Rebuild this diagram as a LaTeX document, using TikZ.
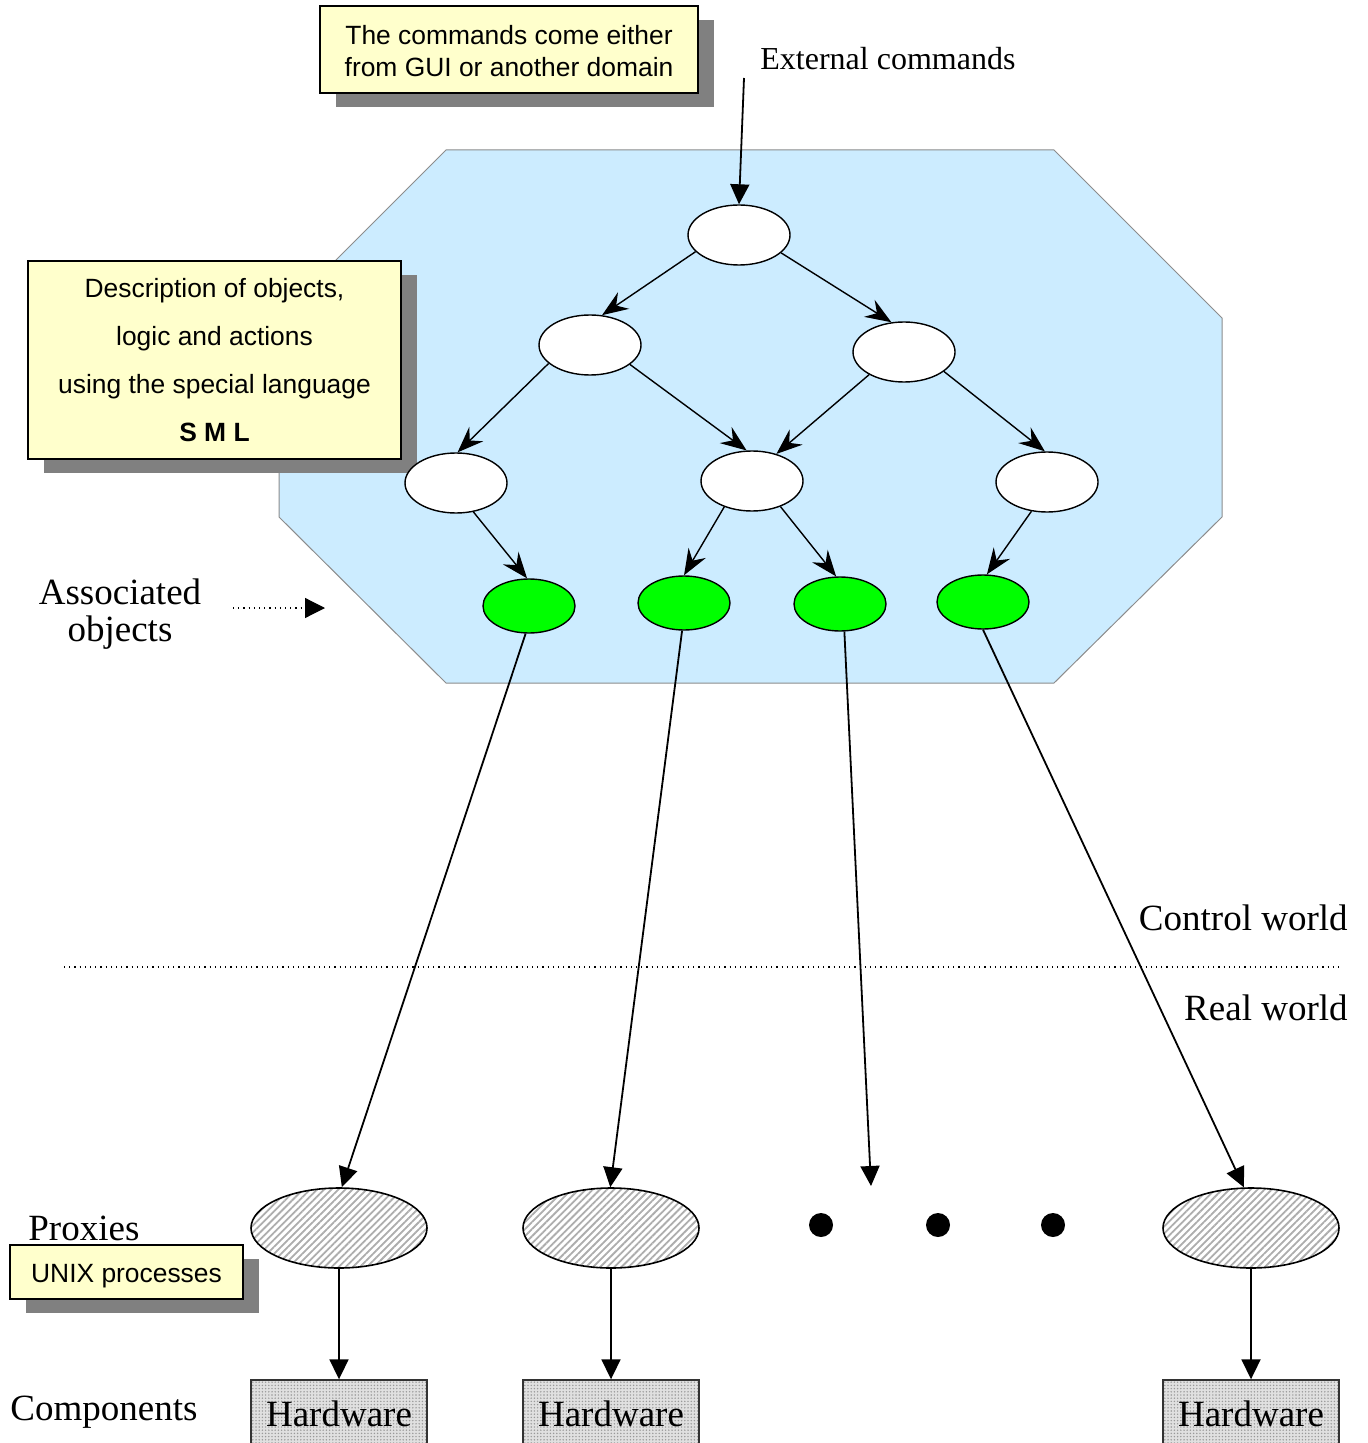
\documentclass[tikz,border=0pt]{standalone}
\usepackage{fontspec}
\setmainfont{Liberation Serif}
\newfontfamily\notefont{Liberation Sans}
\usetikzlibrary{arrows.meta,shapes.geometric,shadows,patterns.meta}
\definecolor{domainblue}{RGB}{204,236,255}
\definecolor{noteyellow}{RGB}{255,255,204}
\definecolor{objgreen}{RGB}{0,255,0}
\tikzset{
  note/.style={draw=black, line width=1pt, fill=noteyellow, inner sep=0pt,
    align=center, font=\notefont\fontsize{13.2}{16}\selectfont,
    drop shadow={shadow xshift=8pt, shadow yshift=-7pt, fill=black!50, opacity=1}},
  stateobj/.style={ellipse, draw=black, line width=0.7pt, fill=white,
    minimum width=51pt, minimum height=30pt, inner sep=0pt},
  assocobj/.style={ellipse, draw=black, line width=0.7pt, fill=objgreen,
    minimum width=46pt, minimum height=27pt, inner sep=0pt},
  proxy/.style={ellipse, draw=black, line width=0.8pt,
    minimum width=88pt, minimum height=40pt, inner sep=0pt,
    preaction={fill=white},
    pattern={Lines[angle=45,distance=2.5pt,line width=0.9pt]}, pattern color=black!32},
  hwbox/.style={rectangle, draw=black!80, line width=0.7pt,
    minimum width=88pt, minimum height=34pt, inner sep=0pt,
    preaction={fill=black!12},
    pattern={Dots[distance=1.6pt,radius=0.4pt]}, pattern color=black!40,
    font=\fontsize{18.5}{18.5}\selectfont},
  dotmark/.style={circle, fill=black, minimum size=12pt, inner sep=0pt},
  lbl/.style={inner sep=0pt, font=\fontsize{18.5}{22}\selectfont},
  treearrow/.style={line width=0.7pt, -{Stealth[length=13pt,width=10pt,inset=4.5pt]}},
  downarrow/.style={line width=0.9pt, -{Triangle[length=10pt,width=9.5pt]}},
}
\begin{document}
\begin{tikzpicture}[x=0.5pt, y=-0.5pt]
\useasboundingbox (0,0) rectangle (1368,1443);

% control domain (octagon)
\draw[draw=black!45, line width=0.5pt, fill=domainblue]
  (446,150) -- (1054,150) -- (1222,318) -- (1222,517) -- (1054,683)
  -- (446,683) -- (279,517) -- (279,317) -- cycle;

% notes
\node[note, minimum width=189pt, minimum height=43.5pt] (cmdnote) at (509,49.5)
  {\raisebox{-2.5pt}[\height][\depth]{\begin{tabular}{@{}c@{}}The commands come either\\from GUI or another domain\end{tabular}}};
\node[note, minimum width=186.5pt, minimum height=99pt,
  font=\notefont\fontsize{13.2}{24}\selectfont] (smlnote) at (214.5,360)
  {Description of objects,\\logic and actions\\using the special language\\\textbf{S M L}};

% external commands
\node[lbl, anchor=base west, font=\fontsize{16}{18}\selectfont] (ext) at (760,70) {External commands};
\coordinate (extin) at (744,78);

% object tree
\node[stateobj] (top) at (739,235) {};
\node[stateobj] (la) at (590,345) {};
\node[stateobj] (lb) at (904,352) {};
\node[stateobj] (ma) at (456,483) {};
\node[stateobj] (mb) at (752,481) {};
\node[stateobj] (mc) at (1047,482) {};

\node[assocobj] (g1) at (529,606) {};
\node[assocobj] (g2) at (684,603) {};
\node[assocobj] (g3) at (840,604) {};
\node[assocobj] (g4) at (983,602) {};

\draw[downarrow] (extin) -- (top.north);
\draw[treearrow] (top.201) -- (la.68);
\draw[treearrow] (top.337) -- (lb.113);
\draw[treearrow] (la.204) -- (ma.87);
\draw[treearrow] (la.334) -- (mb.100);
\draw[treearrow] (lb.213) -- (mb.48);
\draw[treearrow] (lb.334) -- (mc.94);
\draw[treearrow] (ma.301) -- (g1.94);
\draw[treearrow] (mb.223) -- (g2.90);
\draw[treearrow] (mb.318) -- (g3.98);
\draw[treearrow] (mc.242) -- (g4.82);

% associated objects label
\node[lbl, align=center, font=\fontsize{18.5}{18.5}\selectfont] (assoc) at (120,614) {Associated\\objects};
\coordinate (dotsA) at (233,608);
\coordinate (dotsB) at (325,608);
\draw[dotted, line width=0.6pt, -{Triangle[length=10pt,width=10pt]}] (dotsA) -- (dotsB);

% world boundary
\coordinate (bl) at (64,967);
\coordinate (br) at (1340,967);
\draw[dotted, line width=0.6pt] (bl) -- (br);
\node[lbl, anchor=base east] (ctrl) at (1348,930) {Control world};
\node[lbl, anchor=base east] (real) at (1348,1020) {Real world};

% proxies
\node[proxy] (p1) at (339,1228) {};
\node[proxy] (p2) at (611,1228) {};
\node[proxy] (p4) at (1251,1228) {};
\node[dotmark] (d1) at (821,1225) {};
\node[dotmark] (d2) at (938,1225) {};
\node[dotmark] (d3) at (1053,1225) {};
\coordinate (g3end) at (871,1186);

\draw[downarrow] (g1.263) -- (p1.86);
\draw[downarrow] (g2.266) -- (p2.91);
\draw[downarrow] (g3.279) -- (g3end);
\draw[downarrow] (g4.270) -- (p4.100);

\node[lbl, anchor=base west] (proxlbl) at (28,1240) {Proxies};
\node[note, minimum width=116.5pt, minimum height=27pt] (unix) at (126.5,1272)
  {\raisebox{-2pt}[\height][\depth]{UNIX processes}};

% hardware components
\node[hwbox] (h1) at (339,1414) {Hardware};
\node[hwbox] (h2) at (611,1414) {Hardware};
\node[hwbox] (h4) at (1251,1414) {Hardware};
\draw[downarrow] (p1) -- (h1);
\draw[downarrow] (p2) -- (h2);
\draw[downarrow] (p4) -- (h4);
\node[lbl, anchor=base west] (comp) at (10,1420) {Components};
\end{tikzpicture}
\end{document}
